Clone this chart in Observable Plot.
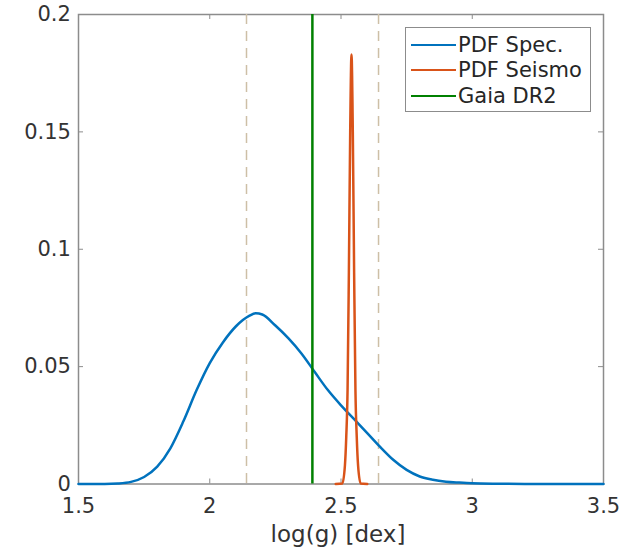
<!DOCTYPE html>
<html><head><meta charset="utf-8">
<script src="https://cdn.jsdelivr.net/npm/d3@7"></script>
<script src="https://cdn.jsdelivr.net/npm/@observablehq/plot@0.6"></script>
<style>
body{margin:0;background:#fff;}
#wrap{position:relative;width:629px;height:550px;font-family:"DejaVu Sans",sans-serif;}
#legend{position:absolute;left:405px;top:27px;width:186px;height:85px;border:1.5px solid #8c8c8c;background:#fff;box-sizing:border-box;}
.row{position:absolute;left:0;height:26px;display:flex;align-items:center;font-size:21px;color:#262626;white-space:nowrap;}
.sw{width:45px;height:0;border-top:2.5px solid;margin-left:5px;margin-right:2px;}
</style></head>
<body><div id="wrap"></div>
<script>
const xTicks = [1.5, 2, 2.5, 3, 3.5];
const xTickLabels = ["1.5", "2", "2.5", "3", "3.5"];
const yTicks = [0, 0.05, 0.1, 0.15, 0.2];
const yTickLabels = ["0", "0.05", "0.1", "0.15", "0.2"];

const specX = [1.50, 1.60, 1.65, 1.70, 1.75, 1.80, 1.85, 1.90, 1.95, 2.00, 2.05, 2.10, 2.15, 2.175, 2.20, 2.25, 2.30, 2.35, 2.40, 2.45, 2.50, 2.55, 2.60, 2.65, 2.70, 2.75, 2.80, 2.85, 2.90, 2.95, 3.00, 3.10, 3.20, 3.50];
const specY = [0, 0, 0.0002, 0.0009, 0.0030, 0.0074, 0.0152, 0.0268, 0.0400, 0.0515, 0.0603, 0.0672, 0.0716, 0.0727, 0.0722, 0.0675, 0.0620, 0.0555, 0.0477, 0.0400, 0.0335, 0.0276, 0.0217, 0.0157, 0.0102, 0.0060, 0.0032, 0.0018, 0.0010, 0.0006, 0.0003, 0.0001, 0, 0];

const seisX = [2.48, 2.505, 2.515, 2.52, 2.525, 2.53, 2.535, 2.540, 2.545, 2.55, 2.555, 2.56, 2.565, 2.575, 2.60];
const seisY = [0, 0.0002, 0.008, 0.02, 0.04, 0.09, 0.15, 0.183, 0.15, 0.09, 0.04, 0.02, 0.008, 0.0002, 0];

const gaiaX = [2.391];
const boundX = [2.14, 2.643];

const legendLabels = ["PDF Spec.", "PDF Seismo", "Gaia DR2"];
const legendColors = ["#0072BD", "#D95319", "#008000"];

const spec = specX.map((x, i) => ({x, y: specY[i]}));
const seis = seisX.map((x, i) => ({x, y: seisY[i]}));

const axisGray = "#8c8c8c";
const W = 629, H = 550, mL = 78, mR = 26, mT = 14, mB = 66.5;
const fw = W - mL - mR, fh = H - mT - mB, tk = 5;

const plot = Plot.plot({
  width: W, height: H,
  marginLeft: mL, marginRight: mR, marginTop: mT, marginBottom: mB,
  x: {domain: [1.5, 3.5], label: null},
  y: {domain: [0, 0.2], label: null},
  style: {fontFamily: "DejaVu Sans", fontSize: "21px", color: "#333", background: "#fff"},
  marks: [
    Plot.frame({stroke: axisGray, strokeWidth: 1.5}),
    Plot.axisX({anchor: "bottom", ticks: xTicks, tickSize: 0, tickPadding: 14.3, tickFormat: (d, i) => xTickLabels[i], fontSize: 21, label: null}),
    Plot.axisY({anchor: "left", ticks: yTicks, tickSize: 0, tickPadding: 7.6, tickFormat: (d, i) => yTickLabels[i], fontSize: 21, label: null}),
    Plot.tickX(xTicks, {x: d => d, insetTop: fh - tk, stroke: axisGray, strokeWidth: 1}),
    Plot.tickX(xTicks, {x: d => d, insetBottom: fh - tk, stroke: axisGray, strokeWidth: 1}),
    Plot.tickY(yTicks, {y: d => d, insetRight: fw - tk, stroke: axisGray, strokeWidth: 1}),
    Plot.tickY(yTicks, {y: d => d, insetLeft: fw - tk, stroke: axisGray, strokeWidth: 1}),
    Plot.ruleX(boundX, {stroke: "#cdbfa6", strokeWidth: 1.5, strokeDasharray: "10,7"}),
    Plot.line(spec, {x: "x", y: "y", stroke: legendColors[0], strokeWidth: 2.5, curve: "monotone-x"}),
    Plot.line(seis, {x: "x", y: "y", stroke: legendColors[1], strokeWidth: 2.5, curve: "monotone-x"}),
    Plot.ruleX(gaiaX, {stroke: legendColors[2], strokeWidth: 2.5}),
    Plot.text(["log(g) [dex]"], {frameAnchor: "bottom", dy: 42, dx: -3, lineAnchor: "top", fontSize: 23, fill: "#333"})
  ]
});

const wrap = document.getElementById("wrap");
wrap.appendChild(plot);

const legend = document.createElement("div");
legend.id = "legend";
const centers = [18, 43.7, 69];
legendLabels.forEach((lab, i) => {
  const row = document.createElement("div");
  row.className = "row";
  row.style.top = (centers[i] - 13 - 1.5) + "px";
  const sw = document.createElement("span");
  sw.className = "sw";
  sw.style.borderTopColor = legendColors[i];
  const t = document.createElement("span");
  t.textContent = lab;
  row.appendChild(sw);
  row.appendChild(t);
  legend.appendChild(row);
});
wrap.appendChild(legend);
</script></body></html>
